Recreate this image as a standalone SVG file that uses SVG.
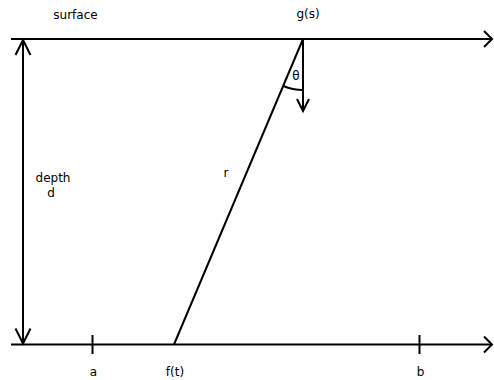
<svg xmlns="http://www.w3.org/2000/svg" width="494" height="380" viewBox="0 0 494 380">
<style>
.ln{stroke:#000;stroke-width:2;fill:none;}
.ah{stroke:#000;stroke-width:2;fill:none;stroke-linejoin:miter;}
text{font-family:"DejaVu Sans",sans-serif;font-size:12px;fill:#000;text-anchor:middle;}
</style>
<rect width="494" height="380" fill="#fff"/>
<g id="connectors">
<line id="surface-line" class="ln" x1="11" y1="39" x2="492" y2="39"/>
<polyline class="ah" points="484,31 492,39 484,47"/>
<line id="bottom-line" class="ln" x1="11" y1="344.5" x2="492" y2="344.5"/>
<polyline class="ah" points="484,336.5 492,344.5 484,352.5"/>
<line id="depth-arrow" class="ln" x1="23" y1="40" x2="23" y2="343.5"/>
<polyline class="ah" points="15.5,55 23,40 30.5,55"/>
<polyline class="ah" points="15.5,328.5 23,343.5 30.5,328.5"/>
<line id="r-line" class="ln" x1="303" y1="39" x2="174" y2="344.5"/>
<line id="normal-arrow" class="ln" x1="303" y1="39" x2="303" y2="111"/>
<polyline class="ah" points="297,99 303,111 309,99"/>
<path id="theta-arc" class="ln" d="M283.3,86 A51,51 0 0 0 303,90"/>
<line class="ln" x1="92.5" y1="335" x2="92.5" y2="354"/>
<line class="ln" x1="419.5" y1="335" x2="419.5" y2="354"/>
</g>
<g id="labels">
<text x="75.5" y="19">surface</text>
<text x="308" y="18">g(s)</text>
<text x="296" y="80">θ</text>
<text x="53" y="182">depth</text>
<text x="51" y="197">d</text>
<text x="226" y="177">r</text>
<text x="93.5" y="376">a</text>
<text x="175" y="376">f(t)</text>
<text x="420.5" y="376">b</text>
</g>
</svg>
